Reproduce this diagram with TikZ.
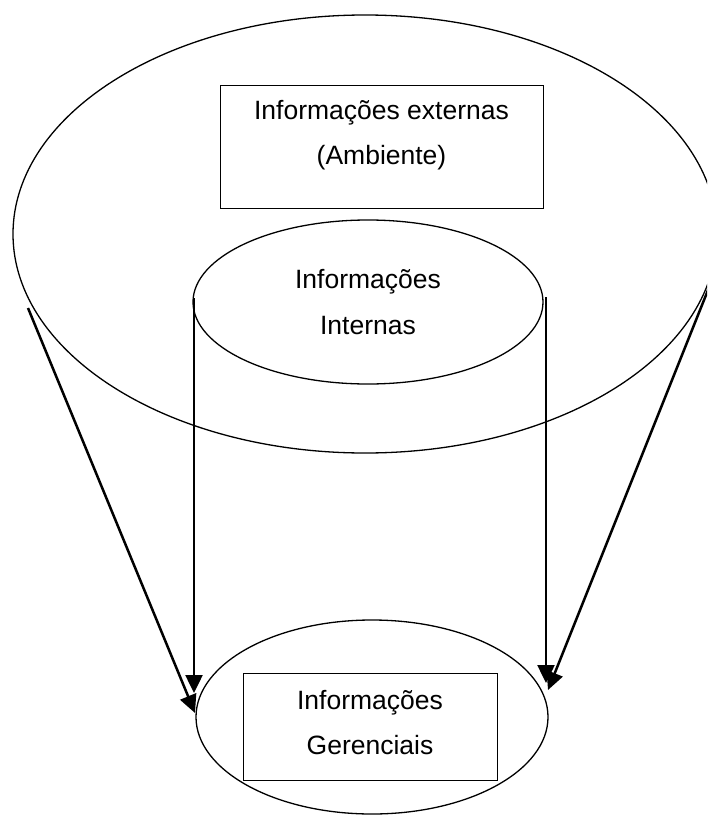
\documentclass[tikz,border=0pt]{standalone}
\usepackage{fontspec}
\setmainfont{Liberation Sans}
\usetikzlibrary{shapes.geometric,arrows.meta}
\newcommand\diagfont{\fontsize{26.5}{45.5}\selectfont}
\begin{document}
\begin{tikzpicture}[x=1pt,y=-1pt,
  oval/.style={draw, ellipse, line width=1.3pt, inner sep=0pt},
  box/.style={draw, rectangle, line width=0.9pt, inner sep=0pt},
  txt/.style={align=center, inner sep=0pt, font=\diagfont},
  flow/.style={line width=2.5pt, -{Triangle[length=18pt,width=17pt]}}]
\clip (0,0) rectangle (707,816);
\useasboundingbox (0,0) rectangle (707,816);

% outer environment ellipse with the external-information box
\node[oval, minimum width=704pt, minimum height=438pt] (outer) at (365,234) {};
\node[box, minimum width=323pt, minimum height=123pt] (extbox) at (381.5,146.5) {};
\node[txt] (extlbl) at (381.5,135) {Informações externas\\(Ambiente)};

% internal information ellipse
\node[oval, txt, minimum width=350pt, minimum height=164pt] (inner) at (368,302) {Informações\\Internas};

% management information ellipse with its box
\node[oval, minimum width=352pt, minimum height=194pt] (mgmt) at (372,717) {};
\node[box, minimum width=254pt, minimum height=107pt] (mgmtbox) at (370,726.5) {};
\node[txt] (mgmtlbl) at (370,722.5) {Informações\\Gerenciais};

% connector end points
\coordinate (lv0) at (194,298);
\coordinate (lv1) at (194,693);
\coordinate (rv0) at (546,297);
\coordinate (rv1) at (546,683);
\coordinate (ld0) at (28,308);
\coordinate (ld1) at (195,713);
\coordinate (rd0) at (710,285);
\coordinate (rd1) at (548,690);

\draw[flow] (lv0) -- (lv1);
\draw[flow] (rv0) -- (rv1);
\draw[flow] (ld0) -- (ld1);
\draw[flow] (rd0) -- (rd1);
\end{tikzpicture}
\end{document}
